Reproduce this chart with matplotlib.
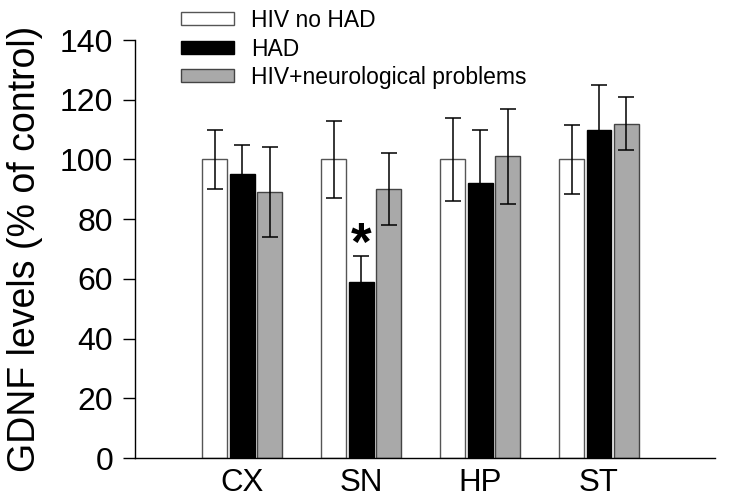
import matplotlib
matplotlib.use('Agg')
import matplotlib.pyplot as plt
import numpy as np

plt.rcParams['font.family'] = ['Liberation Sans', 'DejaVu Sans']

# data
regions = ['CX', 'SN', 'HP', 'ST']
groups = ['HIV no HAD', 'HAD', 'HIV+neurological problems']
hiv_no_had = [100, 100, 100, 100]
hiv_no_had_err = [10, 13, 14, 11.5]
had = [95, 59, 92, 110]
had_err = [10, 8.5, 18, 15]
hiv_neuro = [89, 90, 101, 112]
hiv_neuro_err = [15, 12, 16, 9]
yticks = [0, 20, 40, 60, 80, 100, 120, 140]

fig = plt.figure(figsize=(7.29, 5.03), dpi=100)
ax = fig.add_axes([135 / 729, 45 / 503, (715 - 135) / 729, (458 - 40) / 503])

x = np.arange(len(regions))
w = 0.21
off = 0.231
err_kw = dict(ecolor='black', capsize=6, elinewidth=1.1, capthick=1.1)

ax.bar(x - off, hiv_no_had, w, yerr=hiv_no_had_err, color='white',
       edgecolor='#555555', linewidth=1, label=groups[0], error_kw=err_kw)
ax.bar(x, had, w, yerr=had_err, color='black',
       edgecolor='black', linewidth=1, label=groups[1], error_kw=err_kw)
ax.bar(x + off, hiv_neuro, w, yerr=hiv_neuro_err, color='#a9a9a9',
       edgecolor='#444444', linewidth=1, label=groups[2], error_kw=err_kw)

# significance mark over SN / HAD
ax.text(1, 71, '*', ha='center', va='center', fontsize=38, fontweight='bold')

ax.set_xlim(-0.9, 3.975)
ax.set_ylim(0, 140)
ax.set_yticks(yticks)
ax.set_xticks(x)
ax.set_xticklabels(regions)
ax.tick_params(axis='x', length=0, labelsize=22.5, pad=7)
ax.tick_params(axis='y', direction='out', length=8.6, width=1, labelsize=23, pad=7)
ax.spines['top'].set_visible(False)
ax.spines['right'].set_visible(False)
ax.spines['left'].set_linewidth(1)
ax.spines['bottom'].set_linewidth(1)
ax.set_ylabel('GDNF levels (% of control)', fontsize=27, labelpad=12)

ax.legend(loc='upper left', bbox_to_anchor=(181 / 729, 1 - 9 / 503),
          bbox_transform=fig.transFigure, frameon=False, fontsize=16.5,
          handlelength=2.3, handleheight=0.5, handletextpad=0.75,
          labelspacing=0.24, borderaxespad=0, borderpad=0)

fig.savefig('out.png', dpi=100)
